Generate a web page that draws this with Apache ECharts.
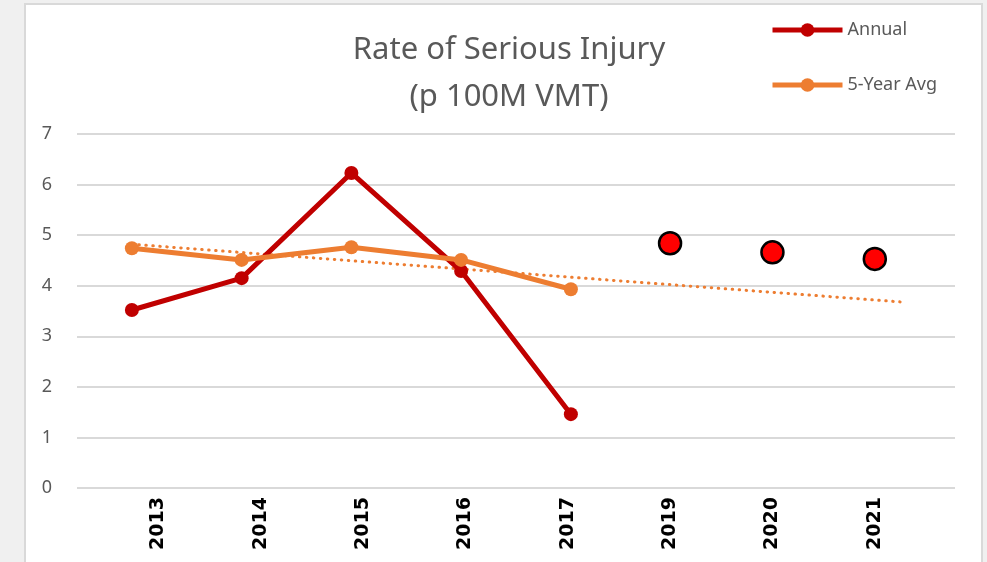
<!DOCTYPE html>
<html>
<head>
<meta charset="utf-8">
<script src="https://cdn.jsdelivr.net/npm/echarts@6/dist/echarts.min.js"></script>
<style>
	html, body {
		margin: 0;
		padding: 0;
		background: #f0f0f0;
		width: 987px;
		height: 562px;
		overflow: hidden;
	}
	.frame {
		position: absolute;
		left: 24px;
		top: 3px;
		width: 955px;
		height: 600px;
		background: #fff;
		border: 2px solid #d9d9d9;
	}
	#chart {
		position: absolute;
		left: 0;
		top: 0;
		width: 987px;
		height: 562px;
	}
</style>
</head>
<body>
<div class="frame"></div>
<div id="chart"></div>
<script>
// line chart categories (8 slots, the axis the lines sit on)
const lineYears = ['2013', '2014', '2015', '2016', '2017', '2019', '2020', '2021']
// labels / target dots axis
const labelYears = ['2013', '2014', '2015', '2016', '2017', '2019', '2020', '2021']

const annual = [3.52, 4.15, 6.23, 4.29, 1.46, null, null, null]
const fiveYearAvg = [4.74, 4.51, 4.76, 4.51, 3.93, null, null, null]
// dotted trend line, endpoints
const trend = [4.82, null, null, null, null, null, null, 3.68]
const targets = [null, null, null, null, null, 4.84, 4.66, 4.53]

const yTicks = [0, 7, 1] // min, max, interval

const chart = echarts.init(document.getElementById('chart'))

const options = {
	animation: false,
	title: {
		text: 'Rate of Serious Injury\n(p 100M VMT)',
		left: 504,
		top: 22,
		textAlign: 'center',
		textStyle: {
			color: '#595959',
			fontFamily: 'Noto Sans',
			fontWeight: 'normal',
			fontSize: 31,
			lineHeight: 47
		}
	},
	legend: {
		data: ['Annual', '5-Year Avg'],
		orient: 'vertical',
		left: 770,
		top: 21,
		padding: 0,
		itemWidth: 70,
		itemHeight: 17,
		itemGap: 37,
		lineStyle: { width: 5 },
		textStyle: {
			color: '#595959',
			fontFamily: 'Noto Sans',
			fontSize: 18
		}
	},
	grid: [
		{ left: 77, right: 32, top: 134, bottom: 74 },
		{ left: 107, right: 61, top: 134, bottom: 74 }
	],
	xAxis: [
		{
			type: 'category',
			gridIndex: 0,
			data: lineYears,
			axisLine: { show: false },
			axisTick: { show: false },
			axisLabel: { show: false }
		},
		{
			type: 'category',
			gridIndex: 1,
			data: labelYears,
			axisLine: { show: false },
			axisTick: { show: false },
			axisLabel: {
				rotate: 90,
				margin: 9,
				color: '#000',
				fontFamily: 'DejaVu Sans',
				fontWeight: 'bold',
				fontSize: 19
			}
		}
	],
	yAxis: [
		{
			type: 'value',
			gridIndex: 0,
			min: yTicks[0],
			max: yTicks[1],
			interval: yTicks[2],
			axisLine: { show: false },
			axisTick: { show: false },
			axisLabel: {
				margin: 25,
				color: '#595959',
				fontFamily: 'Noto Sans',
				fontSize: 18
			},
			splitLine: {
				lineStyle: { color: '#d9d9d9', width: 2 }
			}
		},
		{
			type: 'value',
			gridIndex: 1,
			min: yTicks[0],
			max: yTicks[1],
			interval: yTicks[2],
			show: false,
			splitLine: { show: false }
		}
	],
	series: [
		{
			name: 'Trend',
			type: 'line',
			xAxisIndex: 0,
			yAxisIndex: 0,
			data: trend,
			connectNulls: true,
			showSymbol: false,
			symbol: 'none',
			z: 1,
			lineStyle: {
				color: '#ed7d31',
				width: 3,
				type: [0.5, 6.5],
				cap: 'round'
			}
		},
		{
			name: 'Annual',
			type: 'line',
			xAxisIndex: 0,
			yAxisIndex: 0,
			data: annual,
			symbol: 'circle',
			symbolSize: 14,
			z: 2,
			itemStyle: { color: '#c00000' },
			lineStyle: { color: '#c00000', width: 5 }
		},
		{
			name: '5-Year Avg',
			type: 'line',
			xAxisIndex: 0,
			yAxisIndex: 0,
			data: fiveYearAvg,
			symbol: 'circle',
			symbolSize: 14,
			z: 3,
			itemStyle: { color: '#ed7d31' },
			lineStyle: { color: '#ed7d31', width: 5 }
		},
		{
			name: 'Target',
			type: 'scatter',
			xAxisIndex: 1,
			yAxisIndex: 1,
			data: targets,
			symbol: 'circle',
			symbolSize: 22,
			z: 4,
			itemStyle: {
				color: '#ff0000',
				opacity: 1,
				borderColor: '#000',
				borderWidth: 2.5
			}
		}
	]
}

chart.setOption(options)
</script>
</body>
</html>
